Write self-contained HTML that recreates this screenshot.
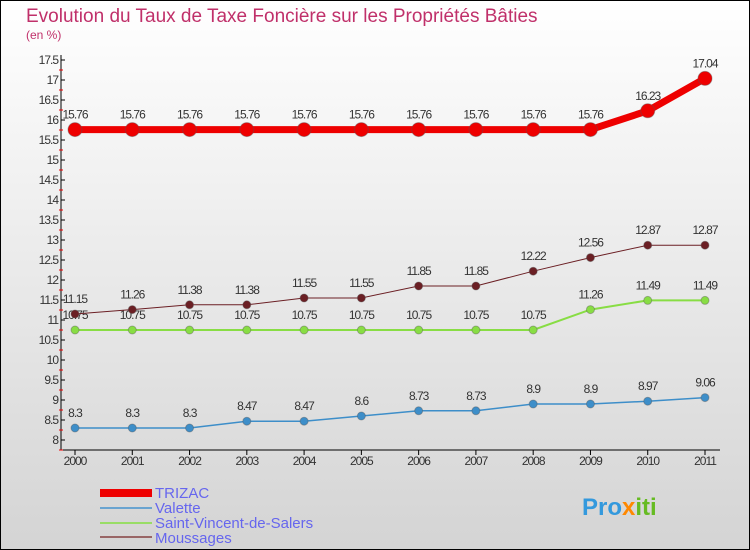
<!DOCTYPE html>
<html><head><meta charset="utf-8"><style>
body{margin:0}
svg{display:block;font-family:"Liberation Sans",sans-serif}
</style></head><body>
<svg id="c" width="750" height="550" xmlns="http://www.w3.org/2000/svg">
<defs><linearGradient id="bg" x1="0" y1="0" x2="0" y2="1"><stop offset="0" stop-color="#ffffff"/><stop offset="1" stop-color="#d4d4d4"/></linearGradient></defs>
<rect x="0.5" y="0.5" width="749" height="549" fill="url(#bg)" stroke="#000"/>
<text x="26" y="22" font-size="19" fill="#c0306a">Evolution du Taux de Taxe Foncière sur les Propriétés Bâties</text>
<text x="26" y="39" font-size="12" fill="#c0306a">(en %)</text>
<g id="axes"></g><g id="series"></g>
<g>
<rect x="100" y="489" width="52" height="8" fill="#ee0000"/>
<text x="155" y="498" font-size="15" fill="#6666ee">TRIZAC</text>
<rect x="100" y="507" width="52" height="2" fill="#6aa4d0"/>
<text x="155" y="513" font-size="15" fill="#6666ee">Valette</text>
<rect x="100" y="522" width="52" height="2" fill="#99dd66"/>
<text x="155" y="528" font-size="15" fill="#6666ee">Saint-Vincent-de-Salers</text>
<rect x="100" y="536" width="52" height="2" fill="#996666"/>
<text x="155" y="543" font-size="15" fill="#6666ee">Moussages</text>
</g>
<text x="582" y="515" font-size="24" font-weight="bold" fill="#3399dd">Pro<tspan fill="#ff8800">x</tspan><tspan fill="#66bb22">iti</tspan></text>
</svg>
<script>
const years=[2000,2001,2002,2003,2004,2005,2006,2007,2008,2009,2010,2011];
const trizac=[15.76,15.76,15.76,15.76,15.76,15.76,15.76,15.76,15.76,15.76,16.23,17.04];
const valette=[8.3,8.3,8.3,8.47,8.47,8.6,8.73,8.73,8.9,8.9,8.97,9.06];
const stVincent=[10.75,10.75,10.75,10.75,10.75,10.75,10.75,10.75,10.75,11.26,11.49,11.49];
const moussages=[11.15,11.26,11.38,11.38,11.55,11.55,11.85,11.85,12.22,12.56,12.87,12.87];
const yTicks=[8,8.5,9,9.5,10,10.5,11,11.5,12,12.5,13,13.5,14,14.5,15,15.5,16,16.5,17,17.5];
const NS="http://www.w3.org/2000/svg";
const X=i=>75+i*(630/11), Y=v=>440-(v-8)*40;
function mk(t,a,p){const e=document.createElementNS(NS,t);for(const k in a)e.setAttribute(k,a[k]);p.appendChild(e);return e;}
const ax=document.getElementById('axes');
let e=mk('line',{x1:61,y1:55,x2:61,y2:450,stroke:'#000'},ax);


e=mk('line',{x1:61,y1:450,x2:720,y2:450,stroke:'#000'},ax);


yTicks.forEach(v=>{
 mk('line',{x1:61,y1:Y(v),x2:65,y2:Y(v),stroke:'#000'},ax);
 mk('line',{x1:59,y1:Y(v)+10,x2:63,y2:Y(v)+10,stroke:'#e00'},ax);
 const t=mk('text',{x:58,y:Y(v)+4,'text-anchor':'end','font-size':12,fill:'#333','letter-spacing':'-1'},ax);
 t.textContent=String(v);
 
 
});
years.forEach((y,i)=>{
 mk('line',{x1:X(i),y1:450,x2:X(i),y2:455,stroke:'#000'},ax);
 const t=mk('text',{x:X(i),y:465,'text-anchor':'middle','font-size':12,fill:'#333','letter-spacing':'-1'},ax);
 t.textContent=y;
 
 
});
const sg=document.getElementById('series');
function series(vals,col,w,r,name){
 const g=mk('g',{},sg);
 
 
 mk('polyline',{points:vals.map((v,i)=>X(i)+','+Y(v)).join(' '),fill:'none',stroke:col,'stroke-width':w},g);
 vals.forEach((v,i)=>{
  const c=mk('circle',{cx:X(i),cy:Y(v),r:r,fill:col,stroke:'#555','stroke-opacity':0.4},g);
  
  
  const t=mk('text',{x:X(i),y:Y(v)-11,'text-anchor':'middle','font-size':12,fill:'#333','letter-spacing':'-1'},g);
  t.textContent=String(v);
  
  
 });
}
series(valette,'#3d8ec9',1.5,4,'valette');
series(stVincent,'#88dd44',2,4,'saint-vincent');
series(moussages,'#6b1f24',1,4,'moussages');
series(trizac,'#ee0000',7,7,'trizac');
</script>
</body></html>
